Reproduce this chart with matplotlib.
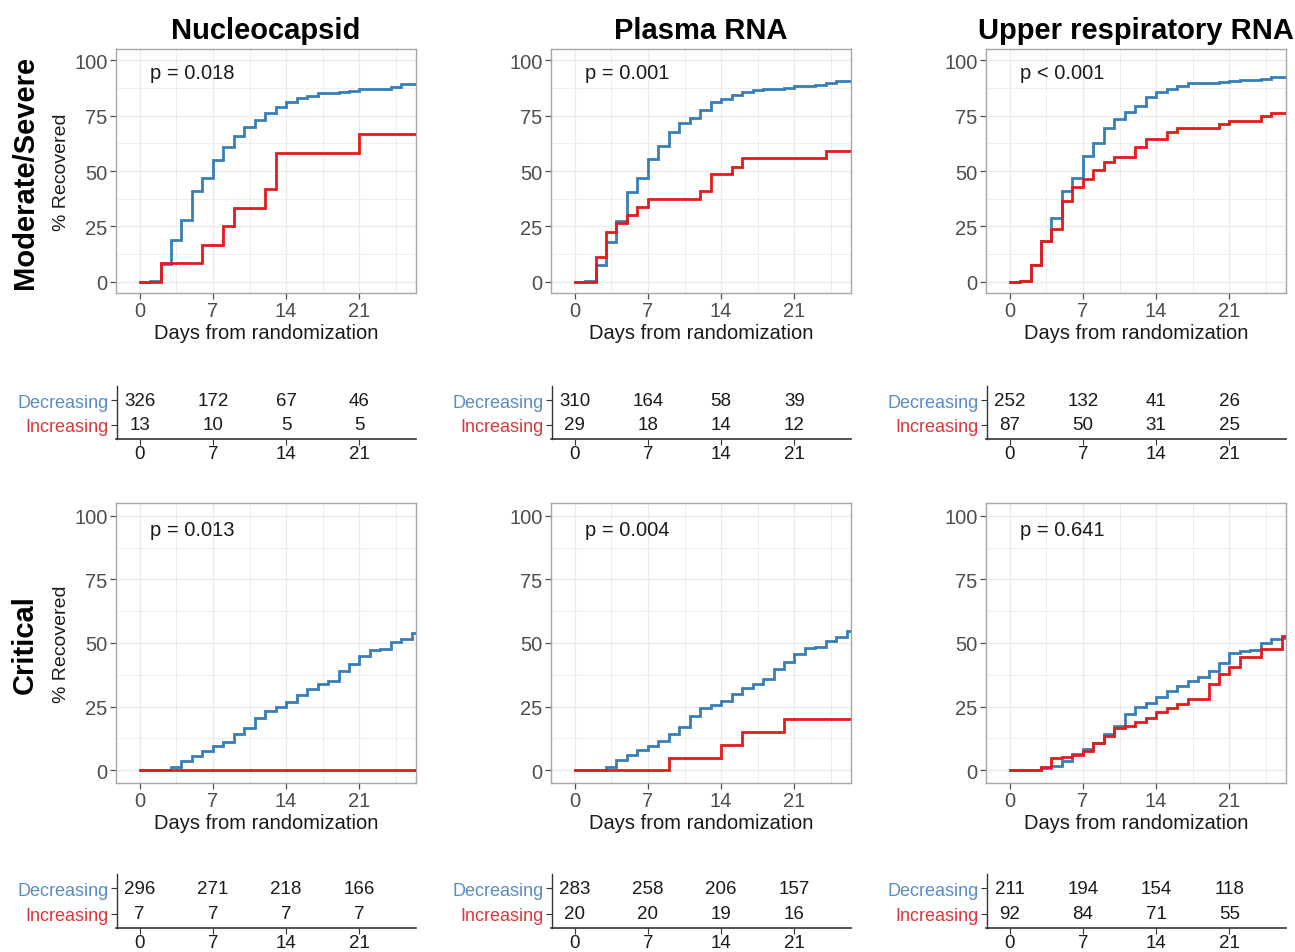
import matplotlib
matplotlib.use("Agg")
import matplotlib.pyplot as plt
import numpy as np

plt.rcParams['font.family'] = ['Liberation Sans', 'DejaVu Sans']

# ---------------- data ----------------
col_titles = ["Nucleocapsid", "Plasma RNA", "Upper respiratory RNA"]
row_titles = ["Moderate/Severe", "Critical"]
group_names = ["Decreasing", "Increasing"]
x_ticks = [0, 7, 14, 21]
y_ticks = [0, 25, 50, 75, 100]

p_values = [["p = 0.018", "p = 0.001", "p < 0.001"],
            ["p = 0.013", "p = 0.004", "p = 0.641"]]

# Decreasing group: % recovered by day (day 0, 1, 2, ...)
nc_ms_dec = [0, 0.5, 8, 19, 28, 41, 47, 55, 61, 66, 70, 73, 76, 79, 81, 83, 84, 85,
             85.3, 85.6, 86, 87, 87, 87, 88, 89]
pr_ms_dec = [0, 0.5, 7.4, 18.2, 27.6, 40.7, 46.7, 55.4, 61.4, 67.7, 71.6, 73.9, 77.5,
             81.2, 82.4, 84.2, 85.7, 86.6, 86.8, 86.9, 87.2, 88.4, 88.5, 88.6, 89.6, 90.7]
ur_ms_dec = [0, 0.5, 7.8, 18.6, 28.8, 41.1, 46.8, 56.9, 62.6, 69.2, 73.4, 76.4, 79.4,
             83.5, 85.4, 86.9, 88.4, 89.5, 89.6, 89.8, 90.2, 90.7, 90.8, 90.9, 91.7, 92.2]
nc_c_dec = [0, 0, 0.3, 1.3, 3.7, 5.6, 7.6, 9.6, 11.3, 14.4, 16.8, 20.7, 23.4, 24.7, 27,
            29.5, 31.9, 33.9, 35.2, 39.1, 41.7, 45, 47.2, 47.6, 50.5, 51.6, 53.9]
pr_c_dec = [0, 0, 0.3, 1.3, 4, 6, 8, 9.6, 11.5, 14.4, 17.1, 21.4, 24.3, 25.6, 27.3,
            29.9, 32.2, 33.9, 35.8, 39.8, 42.4, 45.7, 48, 48.3, 50.9, 52.5, 54.9]
ur_c_dec = [0, 0, 0.3, 1, 1.7, 3.7, 6.3, 8.3, 10.9, 14.2, 17.5, 22, 24.7, 26.4, 28.6,
            31.2, 33.2, 35.2, 36.5, 39.1, 42.1, 46, 47, 47.3, 50, 51.6, 52]

# Increasing group: event days and % recovered after each step
nc_ms_inc_days = [0, 2, 6, 8, 9, 12, 13, 21]
nc_ms_inc = [0, 8.3, 16.7, 25, 33.3, 41.7, 58.3, 66.7]
pr_ms_inc_days = [0, 2, 3, 4, 5, 6, 7, 12, 13, 15, 16, 24]
pr_ms_inc = [0, 11.4, 22.7, 26.6, 30.2, 33.6, 37.4, 41.1, 48.6, 52, 55.7, 59.2]
ur_ms_inc_days = [0, 1, 2, 3, 4, 5, 6, 7, 8, 9, 10, 12, 13, 15, 16, 20, 21, 24, 25]
ur_ms_inc = [0, 0.3, 7.8, 18.6, 23.9, 36.6, 42.6, 46.4, 50.5, 53.9, 56.5, 60.7, 64.4,
             67.7, 69.2, 71.2, 72.7, 74.6, 76.1]
nc_c_inc_days = [0]
nc_c_inc = [0]
pr_c_inc_days = [0, 9, 14, 16, 20]
pr_c_inc = [0, 5, 10, 15, 20]
ur_c_inc_days = [0, 3, 4, 5, 6, 7, 8, 9, 10, 11, 12, 13, 14, 15, 16, 17, 19, 20, 21,
                 22, 24, 26]
ur_c_inc = [0, 1.3, 4.7, 5.4, 5.9, 7.6, 10.9, 13.5, 16.8, 17.5, 19, 20.7, 22.7, 24.3,
            26, 28, 33.9, 37.8, 40.4, 44.4, 47.6, 52.9]

# Numbers at risk at days 0, 7, 14, 21
risk_dec = [[[326, 172, 67, 46], [310, 164, 58, 39], [252, 132, 41, 26]],
            [[296, 271, 218, 166], [283, 258, 206, 157], [211, 194, 154, 118]]]
risk_inc = [[[13, 10, 5, 5], [29, 18, 14, 12], [87, 50, 31, 25]],
            [[7, 7, 7, 7], [20, 20, 19, 16], [92, 84, 71, 55]]]

dec_curves = [[nc_ms_dec, pr_ms_dec, ur_ms_dec], [nc_c_dec, pr_c_dec, ur_c_dec]]
inc_curves = [[(nc_ms_inc_days, nc_ms_inc), (pr_ms_inc_days, pr_ms_inc), (ur_ms_inc_days, ur_ms_inc)],
              [(nc_c_inc_days, nc_c_inc), (pr_c_inc_days, pr_c_inc), (ur_c_inc_days, ur_c_inc)]]

# ---------------- style ----------------
BLUE = "#377EB8"
RED = "#E41A1C"
LBL_BLUE = "#5A8CC4"
LBL_RED = "#E0343B"
TICK_C = "#4D4D4D"
GRID_C = "#EBEBEB"
BORDER_C = "#A6A6A6"
XMIN, XMAX = -2.25, 26.4

W, H = 1295, 953
fig = plt.figure(figsize=(W / 100, H / 100), dpi=100)

def fax(l, t, r, b):
    return fig.add_axes([l / W, 1 - b / H, (r - l) / W, (b - t) / H])

col_left = [116, 551, 986]
row_tb = [(50, 294), (504, 784)]
table_tb = [(387, 440), (875, 929)]
END = 27

for ri in range(2):
    for ci in range(3):
        l = col_left[ci]
        t, b = row_tb[ri]
        ax = fax(l, t, l + 300, b)
        ax.set_xlim(XMIN, XMAX)
        ax.set_ylim(-5, 105)
        ax.set_xticks(x_ticks)
        ax.set_yticks(y_ticks)
        ax.set_xticks([3.5, 10.5, 17.5, 24.5], minor=True)
        ax.set_yticks([12.5, 37.5, 62.5, 87.5], minor=True)
        ax.grid(True, which='major', color=GRID_C, lw=1.0)
        ax.grid(True, which='minor', color=GRID_C, lw=0.6)
        ax.set_axisbelow(True)
        for s in ax.spines.values():
            s.set_color(BORDER_C)
            s.set_linewidth(1.0)
        ax.tick_params(which='major', colors=TICK_C, labelsize=14.5, length=4,
                       width=0.9, pad=2)
        ax.tick_params(which='minor', length=0)
        # curves
        dv = list(dec_curves[ri][ci])
        dd = list(range(len(dv)))
        ax.plot(dd + [END], dv + [dv[-1]], drawstyle='steps-post', color=BLUE,
                lw=2.0, solid_joinstyle='miter', zorder=3)
        idays, ivals = inc_curves[ri][ci]
        ax.plot(list(idays) + [END], list(ivals) + [ivals[-1]], drawstyle='steps-post',
                color=RED, lw=2.0, solid_joinstyle='miter', zorder=4)
        ax.text(1.0, 94.5, p_values[ri][ci], fontsize=14.5, va='center', ha='left',
                color='#1a1a1a')
        ax.set_xlabel("Days from randomization", fontsize=14.5, color='#1a1a1a',
                      labelpad=2)
        if ci == 0:
            ax.set_ylabel("% Recovered", fontsize=14, color='#1a1a1a', labelpad=3)
        if ri == 0:
            ax.set_title(col_titles[ci], fontsize=21, fontweight='bold', pad=8)

        # risk table
        tt, tb = table_tb[ri]
        tx = fax(l, tt, l + 300, tb)
        tx.set_xlim(XMIN, XMAX)
        tx.set_ylim(0.44, 2.56)
        for side in ['top', 'right']:
            tx.spines[side].set_visible(False)
        tx.spines['left'].set_position(('data', XMIN + 0.08))
        tx.spines['left'].set_color('#333333')
        tx.spines['bottom'].set_color('#333333')
        tx.spines['left'].set_linewidth(1.0)
        tx.spines['bottom'].set_linewidth(1.2)
        tx.set_xticks(x_ticks)
        tx.set_yticks([2, 1])
        tx.set_yticklabels(group_names)
        tx.tick_params(axis='x', colors='#333333', labelsize=13.5, length=4, pad=0.5)
        tx.tick_params(axis='y', colors='#333333', labelsize=13, length=4, pad=2)
        for lab in tx.get_xticklabels():
            lab.set_color('#1a1a1a')
        yl = tx.get_yticklabels()
        yl[0].set_color(LBL_BLUE)
        yl[1].set_color(LBL_RED)
        tx.patch.set_alpha(0)
        for k, d in enumerate(x_ticks):
            tx.text(d, 2, str(risk_dec[ri][ci][k]), ha='center', va='center',
                    fontsize=13.5, color='#1a1a1a')
            tx.text(d, 1, str(risk_inc[ri][ci][k]), ha='center', va='center',
                    fontsize=13.5, color='#1a1a1a')

fig.text(25 / W, 1 - 172 / H, row_titles[0], rotation=90, fontsize=21,
         fontweight='bold', ha='center', va='center')
fig.text(25 / W, 1 - 645 / H, row_titles[1], rotation=90, fontsize=21,
         fontweight='bold', ha='center', va='center')

fig.savefig("out.png", dpi=100, facecolor='white')
